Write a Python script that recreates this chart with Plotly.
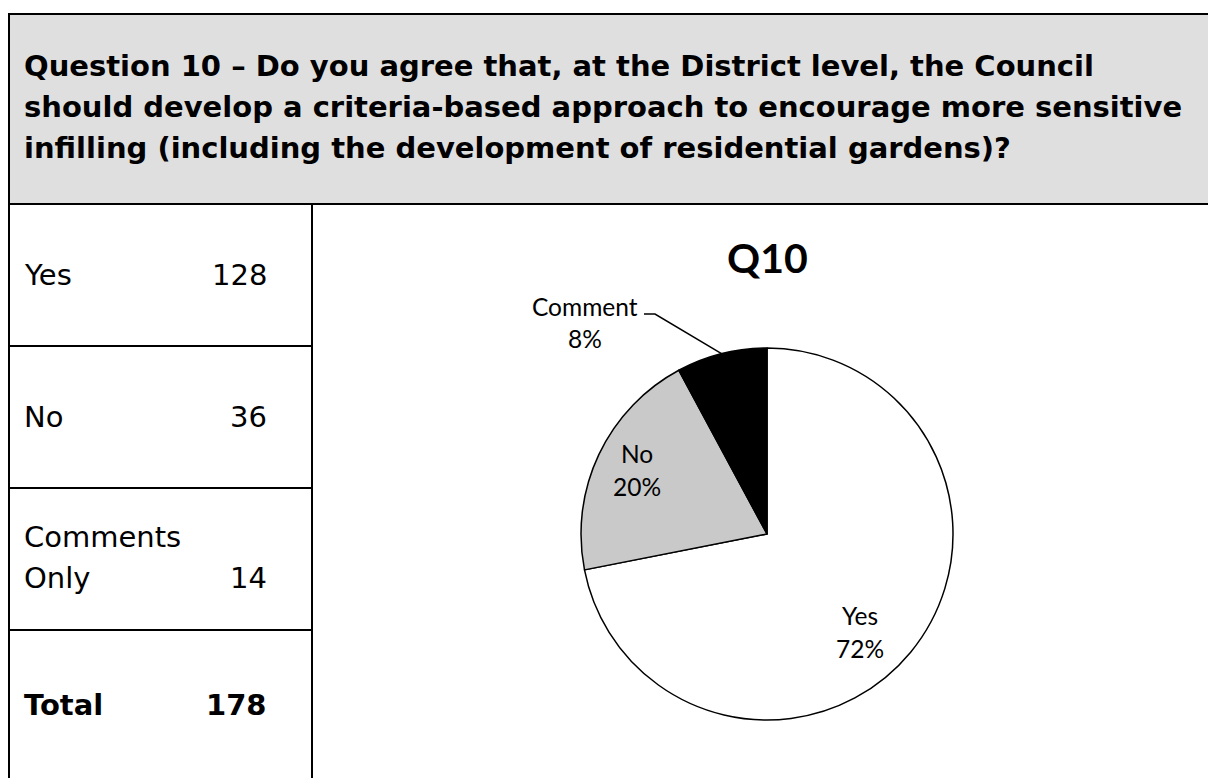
import math
import plotly.graph_objects as go

W, H = 1208, 778

# ---- data -------------------------------------------------------------
question_lines = [
    "Question 10 \u2013 Do you agree that, at the District level, the Council",
    "should develop a criteria-based approach to encourage more sensitive",
    "infilling (including the development of residential gardens)?",
]
answer_labels = ["Yes", "No", "Comments Only"]
answer_counts = [128, 36, 14]
total_label = "Total"
chart_title = "Q10"
pie_labels = ["Yes", "No", "Comment"]
pie_colors = ["#ffffff", "#c9c9c9", "#000000"]

total = sum(answer_counts)


def px(x):
    return x / W


def py(y):
    return 1 - y / H


shapes = []
annotations = []


def hline(x0, x1, y, width=2):
    shapes.append(dict(type="line", xref="paper", yref="paper",
                       x0=px(x0), x1=px(x1), y0=py(y), y1=py(y),
                       line=dict(color="black", width=width)))


def vline(x, y0, y1, width=2):
    shapes.append(dict(type="line", xref="paper", yref="paper",
                       x0=px(x), x1=px(x), y0=py(y0), y1=py(y1),
                       line=dict(color="black", width=width)))


def text(x, y, s, size, family, anchor="left", color="black"):
    annotations.append(dict(x=px(x), y=py(y), xref="paper", yref="paper",
                            text=s, showarrow=False, xanchor=anchor,
                            yanchor="middle",
                            font=dict(size=size, family=family, color=color)))


# ---- header band ------------------------------------------------------
HEAD_TOP, HEAD_BOTTOM, LEFT = 14, 204, 9
shapes.append(dict(type="rect", xref="paper", yref="paper",
                   x0=px(LEFT), x1=1, y0=py(HEAD_BOTTOM), y1=py(HEAD_TOP),
                   fillcolor="#dfdfdf", line=dict(width=0), layer="below"))
hline(LEFT - 1, W, HEAD_TOP)
hline(LEFT - 1, W, HEAD_BOTTOM)
vline(LEFT, HEAD_TOP - 1, H)

body_font = "DejaVu Sans"
for i, line in enumerate(question_lines):
    text(22, 66 + 41 * i, "<b>" + line + "</b>", 29, body_font)

# ---- counts table -----------------------------------------------------
DIV_X = 312
ROW_H = 142
vline(DIV_X, HEAD_BOTTOM, H)
row_tops = [HEAD_BOTTOM + ROW_H * i for i in range(len(answer_labels) + 1)]
for y in row_tops[1:]:
    hline(LEFT, DIV_X, y)

LABEL_X, NUM_X = 22, 269
TABLE_FS = 29
for i, (lab, n) in enumerate(zip(answer_labels, answer_counts)):
    mid = row_tops[i] + ROW_H / 2
    words = lab.split(" ")
    if len(words) > 1:
        text(LABEL_X, mid - 22, words[0], TABLE_FS, body_font)
        text(LABEL_X, mid + 19, " ".join(words[1:]), TABLE_FS, body_font)
        text(NUM_X, mid + 19, str(n), TABLE_FS, body_font, anchor="right")
    else:
        text(LABEL_X, mid, lab, TABLE_FS, body_font)
        text(NUM_X, mid, str(n), TABLE_FS, body_font, anchor="right")

mid = row_tops[-1] + ROW_H / 2 + 4
text(LABEL_X, mid, "<b>" + total_label + "</b>", TABLE_FS, body_font)
text(NUM_X, mid, "<b>" + str(total) + "</b>", TABLE_FS, body_font, anchor="right")

# ---- pie chart --------------------------------------------------------
CX, CY, R = 767, 534, 186
label_font = "Lato"
text(CX, 257, "<b>" + chart_title + "</b>", 41, label_font, anchor="center")

fig = go.Figure()
fig.add_trace(go.Pie(
    labels=pie_labels,
    values=answer_counts,
    sort=False,
    direction="clockwise",
    rotation=0,
    marker=dict(colors=pie_colors, line=dict(color="black", width=1.5)),
    textinfo="none",
    hoverinfo="label+percent",
    showlegend=False,
    domain=dict(x=[px(CX - R), px(CX + R)], y=[py(CY + R), py(CY - R)]),
))

pcts = [round(100 * v / total) for v in answer_counts]

# mid-angle of each slice, clockwise from 12 o'clock
mids = []
acc = 0
for v in answer_counts:
    a0 = acc / total * 360
    acc += v
    a1 = acc / total * 360
    mids.append((a0 + a1) / 2)

LBL_FS = 24.5
LINE_GAP = 33
inside_pos = {0: (860, 632), 1: (637, 470)}
for i, (x, y) in inside_pos.items():
    text(x, y - LINE_GAP / 2, pie_labels[i], LBL_FS, label_font, anchor="center")
    text(x, y + LINE_GAP / 2, f"{pcts[i]}%", LBL_FS, label_font, anchor="center")

# outside label with leader line for the small slice
ang = math.radians(mids[2])
ex, ey = CX + R * math.sin(ang), CY - R * math.cos(ang)
elbow = (655, 314)
shapes.append(dict(type="path", xref="paper", yref="paper",
                   path=f"M {px(ex)},{py(ey)} L {px(elbow[0])},{py(elbow[1])} "
                        f"L {px(644)},{py(elbow[1])}",
                   line=dict(color="black", width=1.5)))
text(585, 306, pie_labels[2], LBL_FS, label_font, anchor="center")
text(585, 339, f"{pcts[2]}%", LBL_FS, label_font, anchor="center")

fig.update_layout(
    width=W, height=H,
    margin=dict(l=0, r=0, t=0, b=0),
    paper_bgcolor="white", plot_bgcolor="white",
    shapes=shapes, annotations=annotations,
)
fig.write_html("out.html")
